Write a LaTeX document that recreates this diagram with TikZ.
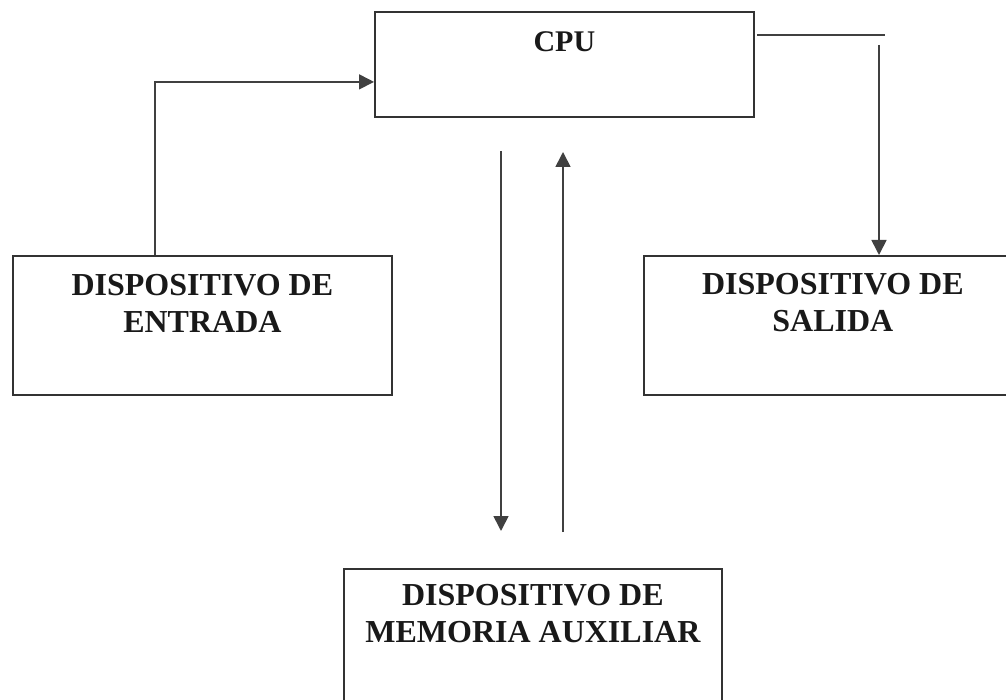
\documentclass[tikz,border=0pt]{standalone}
\usepackage{fontspec}
\setmainfont{Liberation Serif}
\usetikzlibrary{arrows.meta}
\tikzset{
  boxnode/.style={draw=black!80, line width=1.8pt, rectangle, inner sep=0pt, anchor=north west},
  lbl/.style={font=\bfseries\fontsize{32}{37}\selectfont, align=center, inner sep=0pt, anchor=north, text=black!90},
  conn/.style={draw=black!75, line width=1.7pt},
  arr/.style={conn, -{Triangle[length=15pt,width=15pt]}}
}
\begin{document}
\begin{tikzpicture}[x=1pt,y=-1pt]
  \useasboundingbox (0,0) rectangle (1006,700);
  % boxes
  \node[boxnode, minimum width=379pt, minimum height=105pt] (cpu) at (374,11) {};
  \node[boxnode, minimum width=379pt, minimum height=139pt] (ent) at (12,255) {};
  \node[boxnode, minimum width=378pt, minimum height=139pt] (sal) at (643,255) {};
  \node[boxnode, minimum width=378pt, minimum height=150pt] (mem) at (343,568) {};
  % labels
  \node[font=\bfseries\fontsize{30}{34}\selectfont, inner sep=0pt, anchor=base, text=black!90] (tcpu) at ([yshift=-41pt]cpu.north) {CPU};
  \node[lbl] (tent) at ([yshift=-19pt]ent.north) {DISPOSITIVO DE\\ENTRADA};
  \node[lbl] (tsal) at ([yshift=-18pt,xshift=0pt]sal.north) {DISPOSITIVO DE\\SALIDA};
  \node[lbl] (tmem) at ([yshift=-16pt]mem.north) {DISPOSITIVO DE\\MEMORIA AUXILIAR};
  % free ends
  \coordinate (r1) at (757,35);
  \coordinate (r2) at (885,35);
  \coordinate (r3) at (879,45);
  \coordinate (d1) at (501,151);
  \coordinate (d2) at (501,531);
  \coordinate (u1) at (563,532);
  \coordinate (u2) at (563,152);
  % connectors
  \draw[arr] ([xshift=-47.5pt]ent.north) |- ([yshift=-17.5pt]cpu.west);
  \draw[conn] (r1) -- (r2);
  \draw[arr] (r3) -- (r3 |- sal.north);
  \draw[arr] (d1) -- (d2);
  \draw[arr] (u1) -- (u2);
\end{tikzpicture}
\end{document}
